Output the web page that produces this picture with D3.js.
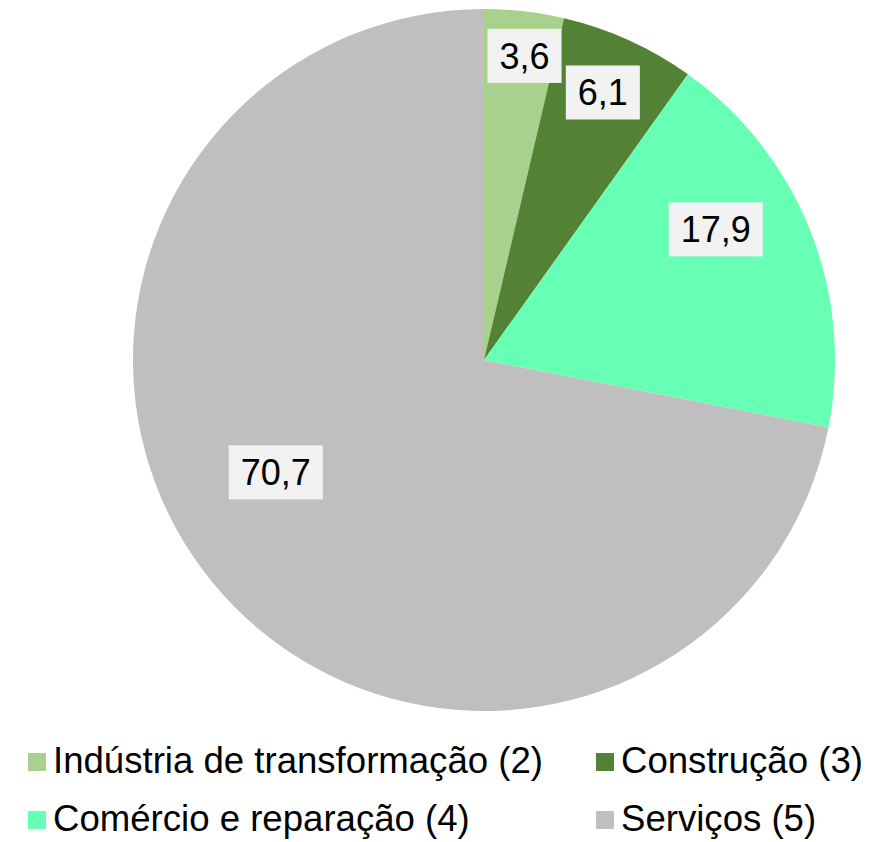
<!DOCTYPE html>
<html>
<head>
<meta charset="utf-8">
<script src="https://cdn.jsdelivr.net/npm/d3@7"></script>
<style>
	body { margin: 0; background: #fff; }
	text { font-family: "Liberation Sans", Arial, sans-serif; }
</style>
</head>
<body>
<div id="chart"></div>
<script>
var sectors = ["Indústria de transformação (2)", "Construção (3)", "Comércio e reparação (4)", "Serviços (5)"];
var shares = [3.6, 6.1, 17.9, 70.7];
var shareLabels = ["3,6", "6,1", "17,9", "70,7"];
var colors = ["#a9d18e", "#548235", "#66ffb3", "#bfbfbf"];

function piechart(selector) {
	var width = 879;
	var height = 842;
	var radius = 351;

	var svg = d3.select(selector)
		.append("svg")
		.attr("width", width)
		.attr("height", height);

	var content = svg.append("g")
		.attr("transform", "translate(484,360)");

	var pie = d3.pie().sort(null).value(function(d) { return d; });
	var arcs = pie(shares);

	var arc = d3.arc().innerRadius(0).outerRadius(radius);

	content.append("g").attr("class", "slices")
		.selectAll("path")
		.data(arcs)
		.enter()
		.append("path")
		.attr("d", arc)
		.attr("fill", function(d, i) { return colors[i]; });

	// excel "best fit" label spots: angle shift (deg) from mid-slice, radius fraction
	var spots = [[1.0, 0.874], [-0.4, 0.834], [-7.7, 0.758], [11.1, 0.674]];

	var labels = content.append("g").attr("class", "labels");
	for (var i = 0; i < arcs.length; i++) {
		var a = (arcs[i].startAngle + arcs[i].endAngle) / 2 + spots[i][0] * Math.PI / 180;
		var r = spots[i][1] * radius;
		var x = r * Math.sin(a);
		var y = -r * Math.cos(a);

		var g = labels.append("g").attr("transform", "translate(" + x + "," + y + ")");
		var box = g.append("rect").attr("fill", "#f2f2f2");
		var t = g.append("text")
			.attr("text-anchor", "middle")
			.attr("y", 13)
			.attr("font-size", 36)
			.attr("fill", "#000")
			.text(shareLabels[i]);
		var w = t.node().getComputedTextLength() + 24;
		box.attr("x", -w / 2).attr("y", -27).attr("width", w).attr("height", 54);
	}

	var legend = svg.append("g").attr("class", "legend");
	var colX = [28, 596];
	var rowY = [773, 831];
	for (var j = 0; j < sectors.length; j++) {
		var lx = colX[j % 2];
		var ly = rowY[Math.floor(j / 2)];
		legend.append("rect")
			.attr("x", lx)
			.attr("y", ly - 20)
			.attr("width", 18)
			.attr("height", 18)
			.attr("fill", colors[j]);
		legend.append("text")
			.attr("x", lx + 25)
			.attr("y", ly)
			.attr("font-size", 36.6)
			.attr("fill", "#000")
			.text(sectors[j]);
	}
}

piechart("#chart");
</script>
</body>
</html>
